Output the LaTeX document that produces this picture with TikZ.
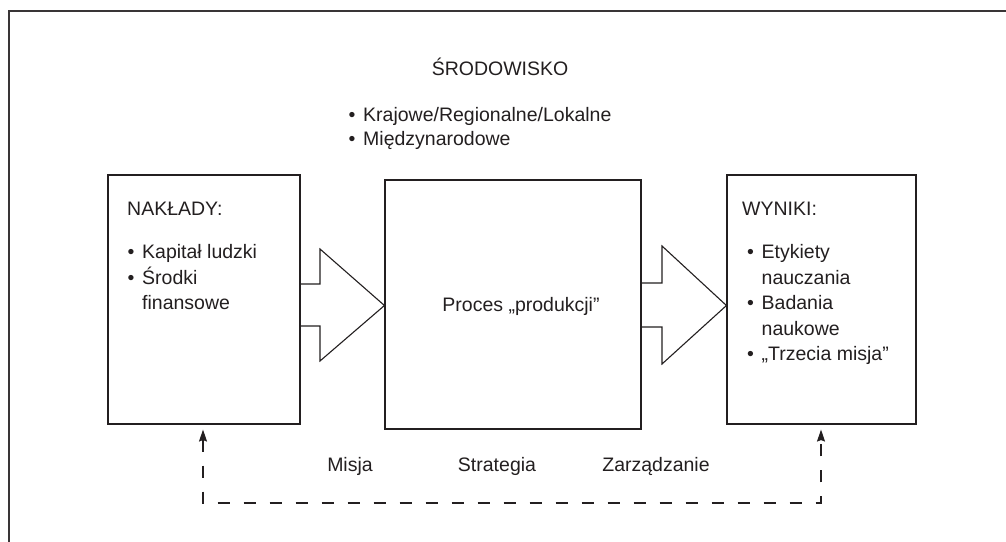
\documentclass[tikz,border=0pt]{standalone}
\usepackage{fontspec}
\setmainfont{Liberation Sans}
\usetikzlibrary{arrows.meta}
\definecolor{ink}{HTML}{231F20}
\newcommand{\bu}{\makebox[14.5pt][l]{•}}
\begin{document}
\begin{tikzpicture}[x=1pt,y=-1pt,
  frame/.style={draw=ink!90, line width=2pt},
  box/.style={draw=ink, line width=1.1pt, inner sep=0pt},
  txt/.style={anchor=base west, inner sep=0pt, text=ink, font=\fontsize{19.5}{25}\selectfont},
  ctxt/.style={anchor=base, inner sep=0pt, text=ink, font=\fontsize{19.5}{25}\selectfont},
  blockarrow/.style={draw=ink, line width=1.1pt, line join=miter},
  fb/.style={draw=ink, line width=1.1pt, dash pattern=on 12pt off 14pt,
    {Stealth[width=8pt,length=12pt,inset=1.5pt]}-{Stealth[width=8pt,length=12pt,inset=1.5pt]}}
]
\useasboundingbox (0,0) rectangle (1006,541);
\fill[white] (0,0) rectangle (1006,541);
\draw[frame] (9,545) -- (9,11) -- (1010,11);

% boxes
\node[box, minimum width=192pt, minimum height=249pt] (inp) at (204,299.5) {};
\node[box, minimum width=256pt, minimum height=249pt] (proc) at (513,304.5) {};
\node[box, minimum width=189pt, minimum height=249pt] (out) at (821.5,299.5) {};

% block arrows
\draw[blockarrow] (inp.east |- 0,284) -- (320,284) -- (320,249) -- (proc.west |- 0,305.5)
  -- (320,361) -- (320,326) -- (inp.east |- 0,326);
\draw[blockarrow] (proc.east |- 0,283) -- (662,283) -- (662,246) -- (out.west |- 0,305.5)
  -- (662,364) -- (662,327) -- (proc.east |- 0,327);

% feedback
\coordinate (fbL) at (203,503);
\coordinate (fbR) at (821,503);
\draw[fb, shorten <=5pt, shorten >=5pt] (fbL |- inp.south) -- (fbL) -- (fbR) -- (fbR |- out.south);

% environment
\node[ctxt] (env) at (500,75) {ŚRODOWISKO};
\node[txt] (env1) at (348.5,121) {\bu Krajowe/Regionalne/Lokalne};
\node[txt] (env2) at (348.5,145) {\bu Międzynarodowe};

% inputs
\node[txt] (inh) at (127,215) {NAKŁADY:};
\node[txt] (in1) at (127.5,258) {\bu Kapitał ludzki};
\node[txt] (in2) at (127.5,284) {\bu Środki};
\node[txt] (in3) at (142,309) {finansowe};

% process
\node[ctxt] (proct) at (521,311) {Proces „produkcji”};

% outputs
\node[txt] (outh) at (742,215) {WYNIKI:};
\node[txt] (out1) at (747,258) {\bu Etykiety};
\node[txt] (out2) at (761.5,284) {nauczania};
\node[txt] (out3) at (747,309) {\bu Badania};
\node[txt] (out4) at (761.5,335) {naukowe};
\node[txt] (out5) at (747,360) {\bu „Trzecia misja”};

% bottom labels
\node[ctxt] (m1) at (350,471) {Misja};
\node[ctxt] (m2) at (497,471) {Strategia};
\node[ctxt] (m3) at (656,471) {Zarządzanie};
\end{tikzpicture}
\end{document}
